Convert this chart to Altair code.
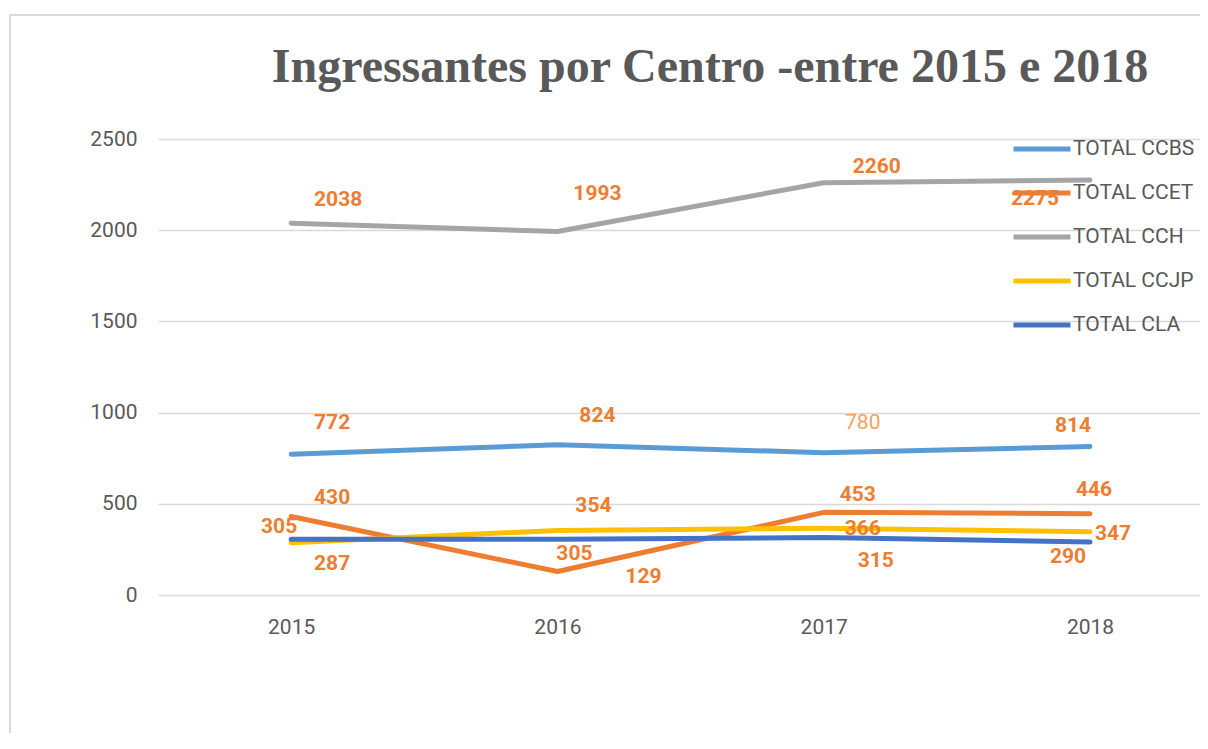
import altair as alt
import pandas as pd

YEARS = [2015, 2016, 2017, 2018]
SERIES = ["TOTAL CCBS", "TOTAL CCET", "TOTAL CCH", "TOTAL CCJP", "TOTAL CLA"]
CCBS = [772, 824, 780, 814]
CCET = [430, 129, 453, 446]
CCH = [2038, 1993, 2260, 2275]
CCJP = [287, 354, 366, 347]
CLA = [305, 305, 315, 290]
Y_TICKS = [0, 500, 1000, 1500, 2000, 2500]
TITLE = "Ingressantes por Centro -entre 2015 e 2018"

# styles
COLORS = ["#5B9BD5", "#ED7D31", "#A5A5A5", "#FFC000", "#4472C4"]
LABEL_COLOR = "#ED7D31"
TEXT_GRAY = "#595959"
GRID = "#D9D9D9"
SANS = "Roboto"

# data-label offsets in pixels (dx, dy), per series, per year
LABEL_OFFSETS = {
    "TOTAL CCBS": [(41, -31), (40, -29), (39, -30), (-17, -21)],
    "TOTAL CCET": [(41, -19), (86, 6), (34, -17), (4, -24)],
    "TOTAL CCH": [(47, -23), (40, -37), (53, -16), (-55, 19)],
    "TOTAL CCJP": [(41, 21), (36, -24), (39, 1), (23, 2)],
    "TOTAL CLA": [(-12, -12), (17, 15), (52, 23), (-22, 15)],
}
# one label drawn lighter and not bold
LIGHT_LABELS = {("TOTAL CCBS", 2017)}

rows = []
for s, vals in zip(SERIES, [CCBS, CCET, CCH, CCJP, CLA]):
    for yr, v in zip(YEARS, vals):
        rows.append({"series": s, "year": yr, "value": v})
df = pd.DataFrame(rows)

W, H = 1042, 456

x_enc = alt.X(
    "year:Q",
    scale=alt.Scale(domain=[2014.5, 2018.413], nice=False, zero=False),
    axis=alt.Axis(values=YEARS, format="d", title=None, grid=False, ticks=False,
                  domain=False, labelFontSize=21, labelFont=SANS, labelColor=TEXT_GRAY,
                  labelPadding=21),
)
y_enc = alt.Y(
    "value:Q",
    scale=alt.Scale(domain=[0, 2500], nice=False),
    axis=alt.Axis(values=Y_TICKS, format="d", title=None, ticks=False, domain=False,
                  labelFontSize=21, labelFont=SANS, labelColor=TEXT_GRAY,
                  labelPadding=21, gridColor=GRID, gridWidth=1.5),
)

lines = alt.Chart(df).mark_line(strokeWidth=5, strokeCap="round", strokeJoin="round").encode(
    x=x_enc,
    y=y_enc,
    color=alt.Color(
        "series:N",
        scale=alt.Scale(domain=SERIES, range=COLORS),
        legend=alt.Legend(
            title=None, orient="none", legendX=872, legendY=-2,
            symbolType="M-3,0H3", symbolSize=361, symbolStrokeWidth=5,
            labelOffset=19, labelFontSize=21, labelFont=SANS, labelColor=TEXT_GRAY,
            rowPadding=22, padding=0,
        ),
    ),
)

texts = []
for s, offs in LABEL_OFFSETS.items():
    for yr, (dx, dy) in zip(YEARS, offs):
        light = (s, yr) in LIGHT_LABELS
        t = alt.Chart(df).transform_filter(
            (alt.datum.series == s) & (alt.datum.year == yr)
        ).mark_text(
            dx=dx, dy=dy, align="center", baseline="middle",
            font=SANS, fontSize=21,
            fontWeight="normal" if light else "bold",
            color="#F4A15E" if light else LABEL_COLOR,
        ).encode(x=x_enc, y=y_enc, text=alt.Text("value:Q"))
        texts.append(t)

frame_top = alt.Chart(df).mark_rule(color=GRID, strokeWidth=2).encode(
    x=alt.value(-148), x2=alt.value(W), y=alt.value(-124)
)
frame_left = alt.Chart(df).mark_rule(color=GRID, strokeWidth=2).encode(
    x=alt.value(-148), y=alt.value(-124), y2=alt.value(H + 150)
)

chart = alt.layer(frame_top, frame_left, lines, *texts).properties(
    width=W,
    height=H,
    autosize=alt.AutoSizeParams(type="none"),
    padding={"left": 150, "top": 131, "right": 0, "bottom": 138},
    title=alt.TitleParams(
        TITLE, font="Liberation Serif", fontSize=48, fontWeight="bold",
        color=TEXT_GRAY, anchor="middle", frame="group", dx=31, offset=-116,
        baseline="alphabetic",
    ),
).configure(background="white").configure_view(strokeWidth=0, stroke="transparent")

chart.save("out.html", embed_options={"renderer": "svg", "actions": False})
